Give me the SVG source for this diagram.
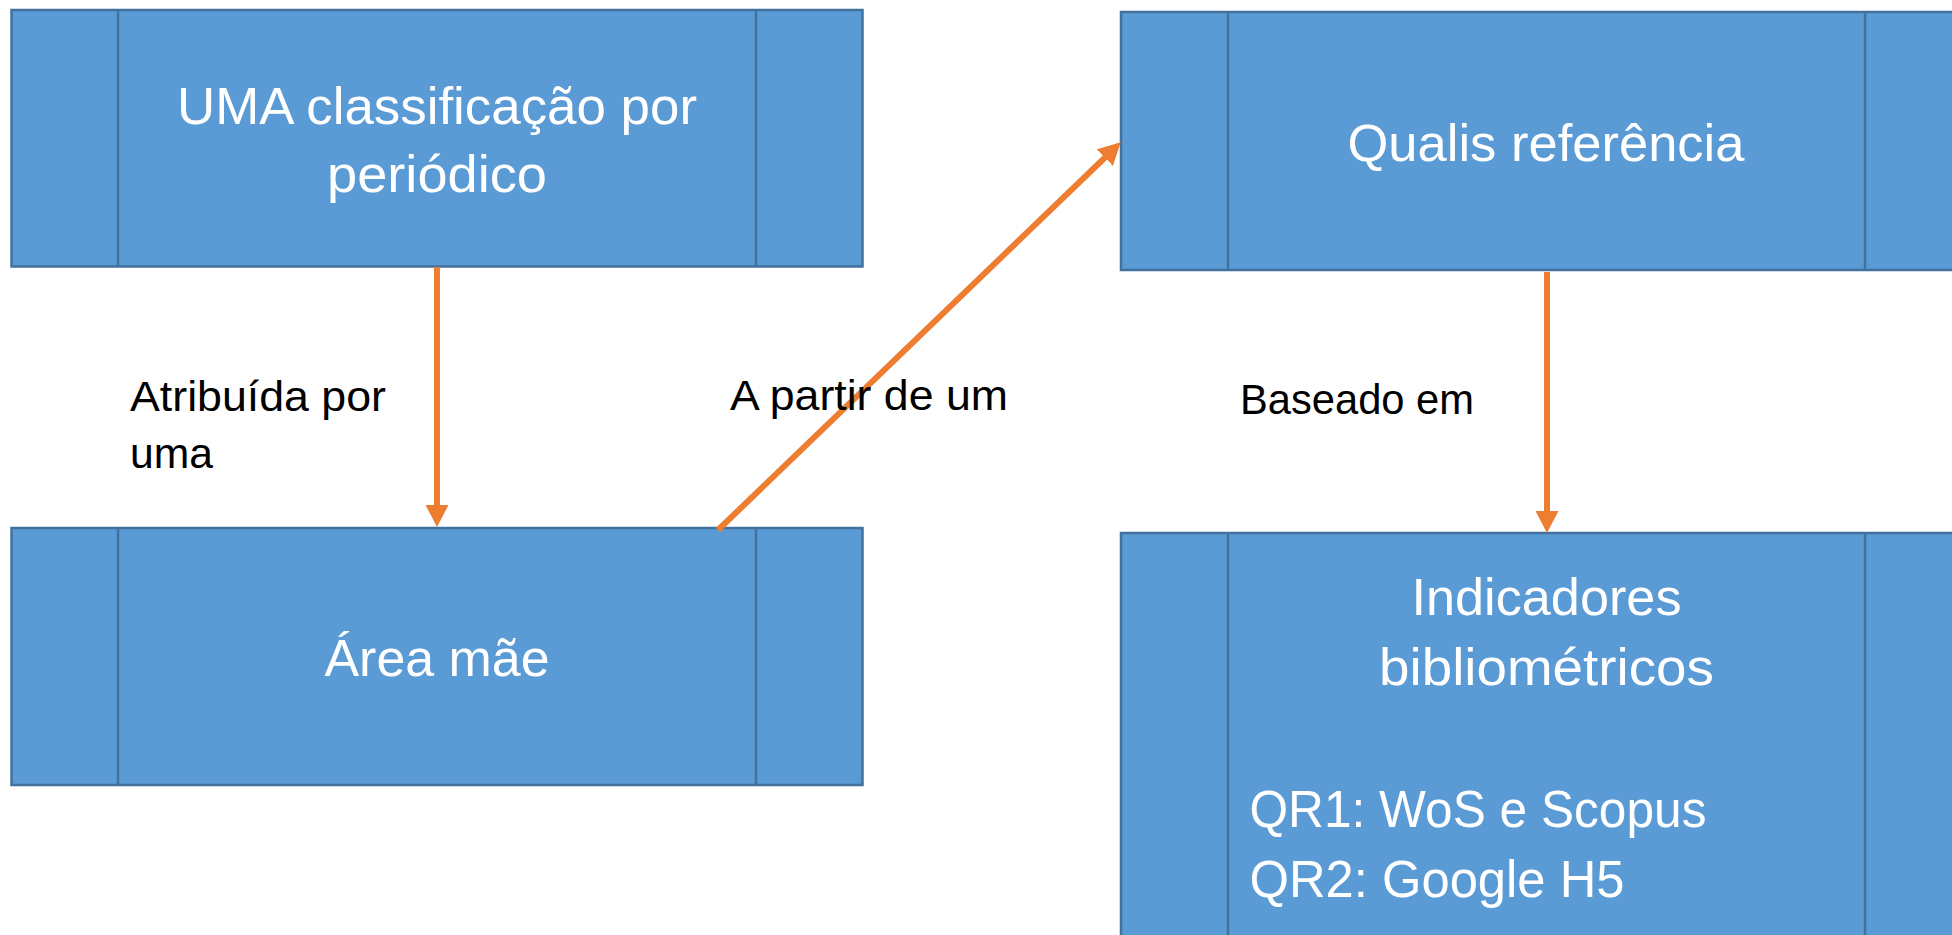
<svg xmlns="http://www.w3.org/2000/svg" width="1952" height="935" viewBox="0 0 1952 935">
<style>
.box{fill:#5B9BD5;stroke:#41719C;stroke-width:2.5}
.div{stroke:#41719C;stroke-width:2.5;fill:none}
.nt{font-family:"Liberation Sans",Arial,sans-serif;font-size:52px;fill:#FFFFFF}
.lb{font-family:"Liberation Sans",Arial,sans-serif;font-size:42px;fill:#000000}
.conn{stroke:#ED7D31;stroke-width:6;fill:none;marker-end:url(#ah)}
</style>
<defs>
<marker id="ah" viewBox="0 0 22 23" refX="11" refY="11.5" markerWidth="22" markerHeight="23" markerUnits="userSpaceOnUse" orient="auto">
<path d="M0,0 L22,11.5 L0,23 z" fill="#ED7D31"/>
</marker>
</defs>
<rect width="1952" height="935" fill="#FFFFFF"/>
<g id="node-classificacao">
<rect class="box" x="11.5" y="10" width="851" height="256.5"/>
<line class="div" x1="118" y1="10" x2="118" y2="266.5"/>
<line class="div" x1="756" y1="10" x2="756" y2="266.5"/>
<text class="nt" x="437" y="124" text-anchor="middle" textLength="520" lengthAdjust="spacingAndGlyphs">UMA classificação por</text>
<text class="nt" x="437" y="192" text-anchor="middle" textLength="220" lengthAdjust="spacingAndGlyphs">periódico</text>
</g>
<g id="node-area">
<rect class="box" x="11.5" y="528" width="851" height="257"/>
<line class="div" x1="118" y1="528" x2="118" y2="785"/>
<line class="div" x1="756" y1="528" x2="756" y2="785"/>
<text class="nt" x="437" y="676" text-anchor="middle" textLength="225" lengthAdjust="spacingAndGlyphs">Área mãe</text>
</g>
<g id="node-qualis">
<rect class="box" x="1121" y="12" width="851" height="258"/>
<line class="div" x1="1228" y1="12" x2="1228" y2="270"/>
<line class="div" x1="1865" y1="12" x2="1865" y2="270"/>
<text class="nt" x="1546" y="161" text-anchor="middle" textLength="397" lengthAdjust="spacingAndGlyphs">Qualis referência</text>
</g>
<g id="node-indicadores">
<rect class="box" x="1121" y="533" width="851" height="500"/>
<line class="div" x1="1228" y1="533" x2="1228" y2="1033"/>
<line class="div" x1="1865" y1="533" x2="1865" y2="1033"/>
<text class="nt" x="1546.5" y="615" text-anchor="middle" textLength="270" lengthAdjust="spacingAndGlyphs">Indicadores</text>
<text class="nt" x="1546.5" y="685" text-anchor="middle" textLength="335" lengthAdjust="spacingAndGlyphs">bibliométricos</text>
<text class="nt" x="1249.5" y="827" textLength="457" lengthAdjust="spacingAndGlyphs">QR1: WoS e Scopus</text>
<text class="nt" x="1249.5" y="897" textLength="375" lengthAdjust="spacingAndGlyphs">QR2: Google H5</text>
</g>
<g id="connectors">
<line class="conn" x1="437" y1="267" x2="437" y2="516"/>
<line class="conn" x1="718" y1="530" x2="1112.8" y2="150"/>
<line class="conn" x1="1547" y1="272" x2="1547" y2="522"/>
<text class="lb" x="130" y="411" textLength="256" lengthAdjust="spacingAndGlyphs">Atribuída por</text>
<text class="lb" x="130" y="468" textLength="83" lengthAdjust="spacingAndGlyphs">uma</text>
<text class="lb" x="730" y="410" textLength="278" lengthAdjust="spacingAndGlyphs">A partir de um</text>
<text class="lb" x="1240" y="414" textLength="234" lengthAdjust="spacingAndGlyphs">Baseado em</text>
</g>
</svg>
